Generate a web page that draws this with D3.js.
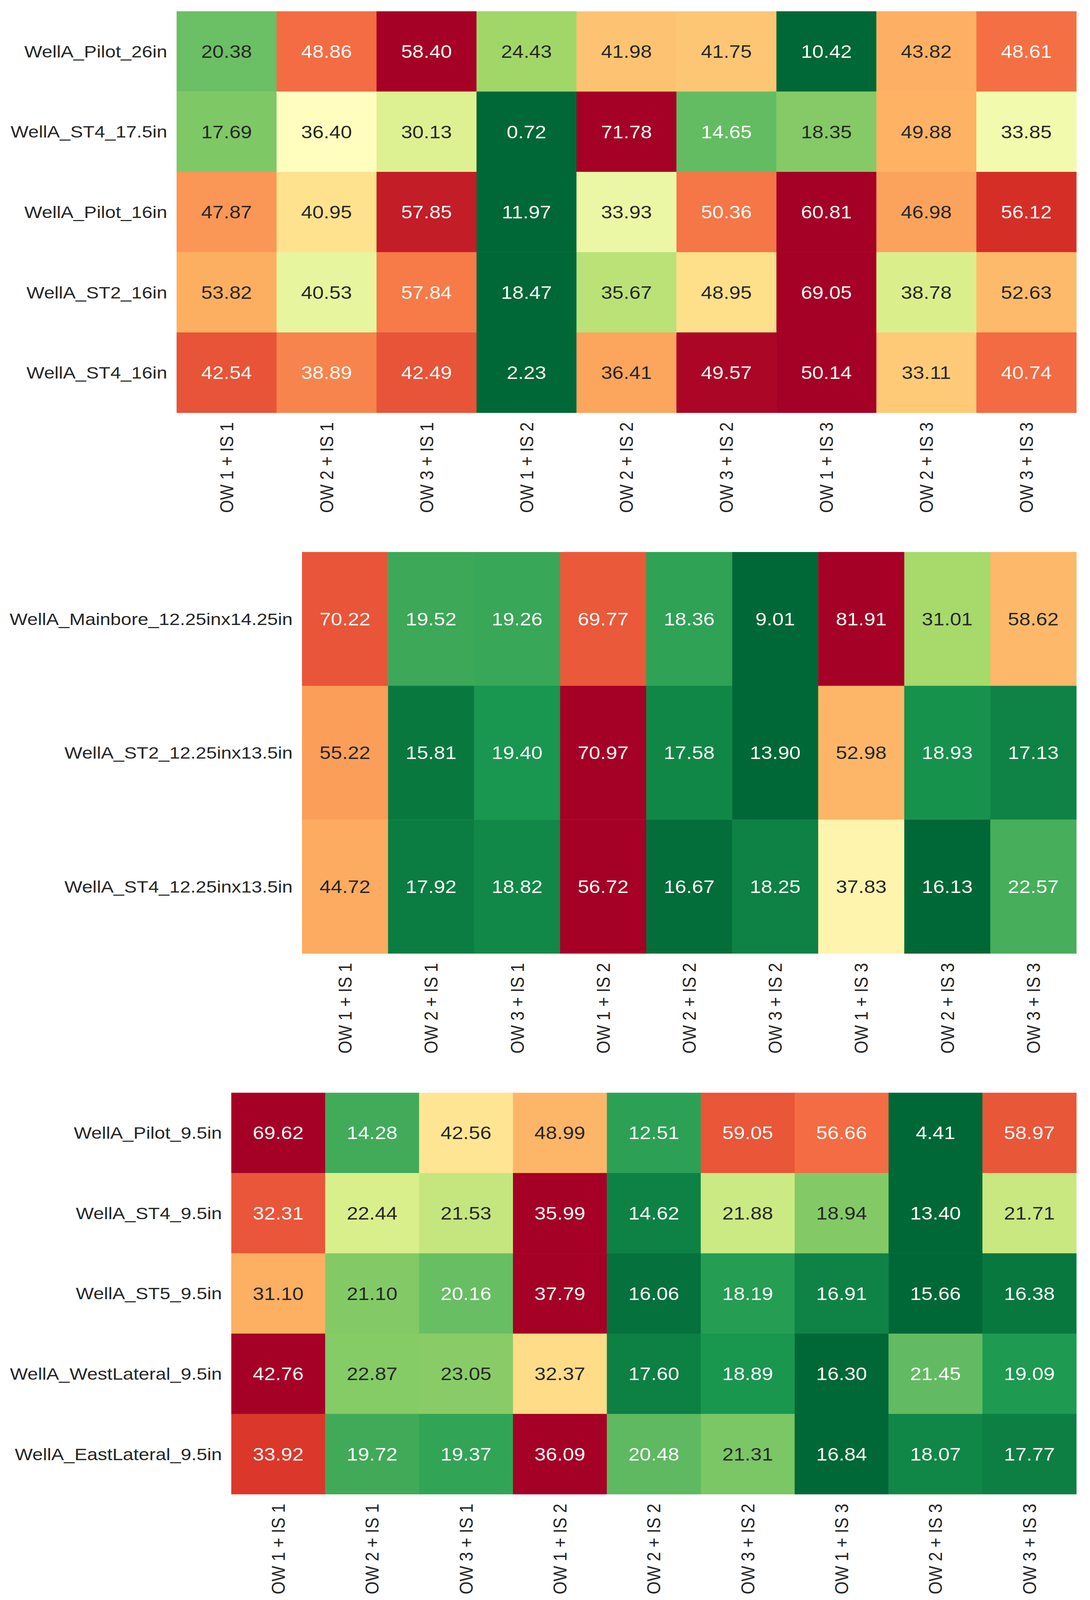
<!DOCTYPE html>
<html>
<head>
<meta charset="utf-8">
<script src="https://cdn.jsdelivr.net/npm/d3@7"></script>
<style>
  html, body { margin: 0; padding: 0; background: #fff; overflow: hidden; }
  svg { display: block; }
  text { font-family: "Liberation Sans", Arial, sans-serif; }
</style>
</head>
<body>
<div id="chart"></div>
<script>
// Data
const columns = ['OW 1 + IS 1', 'OW 2 + IS 1', 'OW 3 + IS 1',
                 'OW 1 + IS 2', 'OW 2 + IS 2', 'OW 3 + IS 2',
                 'OW 1 + IS 3', 'OW 2 + IS 3', 'OW 3 + IS 3']

const rows26 = ['WellA_Pilot_26in', 'WellA_ST4_17.5in', 'WellA_Pilot_16in', 'WellA_ST2_16in', 'WellA_ST4_16in']
const values26 = [
  [20.38, 48.86, 58.40, 24.43, 41.98, 41.75, 10.42, 43.82, 48.61],
  [17.69, 36.40, 30.13, 0.72, 71.78, 14.65, 18.35, 49.88, 33.85],
  [47.87, 40.95, 57.85, 11.97, 33.93, 50.36, 60.81, 46.98, 56.12],
  [53.82, 40.53, 57.84, 18.47, 35.67, 48.95, 69.05, 38.78, 52.63],
  [42.54, 38.89, 42.49, 2.23, 36.41, 49.57, 50.14, 33.11, 40.74],
]

const rows12 = ['WellA_Mainbore_12.25inx14.25in', 'WellA_ST2_12.25inx13.5in', 'WellA_ST4_12.25inx13.5in']
const values12 = [
  [70.22, 19.52, 19.26, 69.77, 18.36, 9.01, 81.91, 31.01, 58.62],
  [55.22, 15.81, 19.40, 70.97, 17.58, 13.90, 52.98, 18.93, 17.13],
  [44.72, 17.92, 18.82, 56.72, 16.67, 18.25, 37.83, 16.13, 22.57],
]

const rows9 = ['WellA_Pilot_9.5in', 'WellA_ST4_9.5in', 'WellA_ST5_9.5in', 'WellA_WestLateral_9.5in', 'WellA_EastLateral_9.5in']
const values9 = [
  [69.62, 14.28, 42.56, 48.99, 12.51, 59.05, 56.66, 4.41, 58.97],
  [32.31, 22.44, 21.53, 35.99, 14.62, 21.88, 18.94, 13.40, 21.71],
  [31.10, 21.10, 20.16, 37.79, 16.06, 18.19, 16.91, 15.66, 16.38],
  [42.76, 22.87, 23.05, 32.37, 17.60, 18.89, 16.30, 21.45, 19.09],
  [33.92, 19.72, 19.37, 36.09, 20.48, 21.31, 16.84, 18.07, 17.77],
]

// Dimensions (drawing units; the svg is stretched to the visible window)
const dimensions = {
  width: 2790,
  height: 4687,
  right: 2755,
  panelHeight: 1176,
}
const panels = [
  { rows: rows26, values: values26, left: 452, top: 33 },
  { rows: rows12, values: values12, left: 773, top: 1617 },
  { rows: rows9, values: values9, left: 592, top: 3201 },
]

// RdYlGn reversed, built from the 11 brewer stops like matplotlib does
const stops = d3.schemeRdYlGn[11].slice().reverse()
const cmap = d3.scaleLinear()
  .domain(d3.range(11).map(i => i / 10))
  .range(stops)
  .interpolate(d3.interpolateRgb)
  .clamp(true)

// same rule seaborn uses to pick dark or white annotation text
function textColor(fill) {
  const c = d3.rgb(fill)
  const lin = v => {
    v = v / 255
    return v <= 0.03928 ? v / 12.92 : Math.pow((v + 0.055) / 1.055, 2.4)
  }
  const lum = 0.2126 * lin(c.r) + 0.7152 * lin(c.g) + 0.0722 * lin(c.b)
  return lum > 0.408 ? '#262626' : '#ffffff'
}

const svg = d3.select('#chart')
  .append('svg')
  .attr('width', window.innerWidth)
  .attr('height', window.innerHeight)
  .attr('viewBox', `0 0 ${dimensions.width} ${dimensions.height}`)
  .attr('preserveAspectRatio', 'none')

panels.forEach(panel => {
  const ctrWidth = dimensions.right - panel.left
  const ctr = svg.append('g')
    .attr('transform', `translate(${panel.left}, ${panel.top})`)

  // Scales
  const xScale = d3.scaleBand()
    .domain(columns)
    .range([0, ctrWidth])
  const yScale = d3.scaleBand()
    .domain(panel.rows)
    .range([0, dimensions.panelHeight])

  // each row is normalised on its own min / max
  const cells = []
  panel.values.forEach((vals, i) => {
    const norm = d3.scaleLinear().domain(d3.extent(vals)).range([0, 1])
    vals.forEach((v, j) => {
      cells.push({ row: panel.rows[i], col: columns[j], value: v, fill: cmap(norm(v)) })
    })
  })

  ctr.selectAll('rect')
    .data(cells)
    .join('rect')
    .attr('x', d => xScale(d.col))
    .attr('y', d => yScale(d.row))
    .attr('width', xScale.bandwidth() + 0.5)
    .attr('height', yScale.bandwidth() + 0.5)
    .attr('fill', d => d.fill)

  ctr.selectAll('text.annot')
    .data(cells)
    .join('text')
    .attr('class', 'annot')
    .attr('x', d => xScale(d.col) + xScale.bandwidth() / 2)
    .attr('y', d => yScale(d.row) + yScale.bandwidth() / 2)
    .attr('dy', '0.36em')
    .attr('text-anchor', 'middle')
    .style('font-size', '52px')
    .attr('fill', d => textColor(d.fill))
    .text(d => d.value.toFixed(2))

  // Axes
  const yAxis = d3.axisLeft(yScale).tickSize(0).tickPadding(24)
  const yAxisGroup = ctr.append('g').call(yAxis)
  yAxisGroup.select('.domain').remove()
  yAxisGroup.selectAll('text')
    .style('font-size', '48.5px')
    .attr('fill', '#262626')
    .attr('dy', '0.36em')

  const xAxis = d3.axisBottom(xScale).tickSize(0)
  const xAxisGroup = ctr.append('g')
    .attr('transform', `translate(0, ${dimensions.panelHeight})`)
    .call(xAxis)
  xAxisGroup.select('.domain').remove()
  xAxisGroup.selectAll('text')
    .style('font-size', '48.5px')
    .attr('fill', '#262626')
    .attr('transform', 'rotate(-90)')
    .attr('x', -28)
    .attr('y', 0)
    .attr('dy', '0.35em')
    .style('text-anchor', 'end')
})
</script>
</body>
</html>
